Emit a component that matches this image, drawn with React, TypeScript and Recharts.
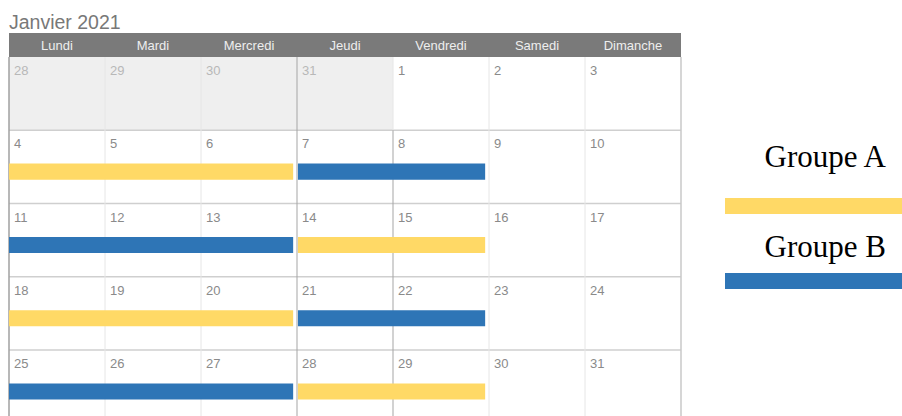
import React from 'react';
import { ComposedChart, XAxis, YAxis, Scatter, ReferenceArea, ReferenceLine, Legend } from 'recharts';

const TITLE = 'Janvier 2021';
const dayNames = ['Lundi', 'Mardi', 'Mercredi', 'Jeudi', 'Vendredi', 'Samedi', 'Dimanche'];
const weekDays = [
  [28, 29, 30, 31, 1, 2, 3],
  [4, 5, 6, 7, 8, 9, 10],
  [11, 12, 13, 14, 15, 16, 17],
  [18, 19, 20, 21, 22, 23, 24],
  [25, 26, 27, 28, 29, 30, 31],
];
const prevMonthCells = 4;
const groupA = [
  { week: 1, start: 0, end: 3 },
  { week: 2, start: 3, end: 5 },
  { week: 3, start: 0, end: 3 },
  { week: 4, start: 3, end: 5 },
];
const groupB = [
  { week: 1, start: 3, end: 5 },
  { week: 2, start: 0, end: 3 },
  { week: 3, start: 3, end: 5 },
  { week: 4, start: 0, end: 3 },
];
const groups = [
  { name: 'Groupe A', color: '#FFD966', spans: groupA },
  { name: 'Groupe B', color: '#2E75B6', spans: groupB },
];

const SANS = '"Liberation Sans", Arial, Helvetica, sans-serif';
const SERIF = '"Liberation Serif", "Times New Roman", serif';
const Y_MAX = 4.9;

const cells = weekDays.flatMap((week, w) =>
  week.map((day, c) => ({ x: c, y: w, day, muted: w === 0 && c < prevMonthCells }))
);
const headers = dayNames.map((name, i) => ({ x: i + 0.5, y: -0.164, name }));

const DayShape = (p: any) => (
  <text
    x={p.cx + 5}
    y={p.cy + 18}
    fontSize={13}
    fontFamily={SANS}
    fill={p.payload.muted ? '#b8b8b8' : '#8a8a8a'}
  >
    {p.payload.day}
  </text>
);

const HeaderShape = (p: any) => (
  <text
    x={p.cx}
    y={p.cy}
    textAnchor="middle"
    dominantBaseline="central"
    fontSize={13}
    fontFamily={SANS}
    fill="#eeeeee"
  >
    {p.payload.name}
  </text>
);

const LegendContent = () => (
  <svg width={212} height={180}>
    {groups.map((g, i) => (
      <g key={g.name}>
        <text x={196} y={47 + i * 90} textAnchor="end" fontSize={31} fontFamily={SERIF} fill="#000">
          {g.name}
        </text>
        <rect x={35} y={78 + i * 75} width={177} height={16} fill={g.color} />
      </g>
    ))}
  </svg>
);

const vLines = [
  { x: 0, y1: 0, stroke: '#a0a0a0', w: 1.5 },
  { x: 1, y1: 0, stroke: '#e6e6e6', w: 1 },
  { x: 2, y1: 0, stroke: '#e6e6e6', w: 1 },
  { x: 3, y1: 0, stroke: '#a5a5a5', w: 1 },
  { x: 4, y1: 1, stroke: '#a5a5a5', w: 1 },
  { x: 5, y1: 0, stroke: '#e6e6e6', w: 1 },
  { x: 6, y1: 0, stroke: '#e6e6e6', w: 1 },
  { x: 7, y1: 0, stroke: '#c8c8c8', w: 1.5 },
];

export default function App() {
  return (
    <div style={{ position: 'absolute', left: 0, top: 0, width: 902, height: 416, background: '#fff' }}>
      <svg width={300} height={33} style={{ position: 'absolute', left: 0, top: 0 }}>
        <text x={9} y={29} fontSize={19.5} fontFamily={SANS} fill="#787878">
          {TITLE}
        </text>
      </svg>
      <ComposedChart width={902} height={416} margin={{ top: 33, left: 9, right: 221, bottom: 0 }}>
        <XAxis hide type="number" dataKey="x" domain={[0, 7]} allowDataOverflow />
        <YAxis hide type="number" dataKey="y" domain={[-0.328, Y_MAX]} reversed allowDataOverflow />
        <Legend
          layout="horizontal"
          align="center"
          verticalAlign="middle"
          content={LegendContent}
          wrapperStyle={{ position: 'absolute', left: 690, top: 120, width: 212, height: 180 }}
        />
        <ReferenceArea x1={0} x2={7} y1={-0.328} y2={0} fill="#7a7a7a" fillOpacity={1} ifOverflow="visible" zIndex={40} />
        <ReferenceArea x1={0} x2={prevMonthCells} y1={0} y2={1} fill="#efefef" fillOpacity={1} ifOverflow="visible" zIndex={40} />
        {[1, 2, 3, 4].map((y) => (
          <ReferenceLine key={'h' + y} y={y} stroke="#cfcfcf" strokeWidth={1.5} ifOverflow="visible" zIndex={50} />
        ))}
        <ReferenceLine
          segment={[{ x: 4, y: 0 }, { x: 4, y: 1 }]}
          stroke="#e6e6e6"
          strokeWidth={1}
          ifOverflow="visible"
          zIndex={50}
        />
        {vLines.map((l) => (
          <ReferenceLine
            key={'v' + l.x}
            segment={[{ x: l.x, y: l.y1 }, { x: l.x, y: Y_MAX }]}
            stroke={l.stroke}
            strokeWidth={l.w}
            ifOverflow="visible"
            zIndex={50}
          />
        ))}
        {groups.flatMap((g) =>
          g.spans.map((s, i) => (
            <ReferenceArea
              key={g.name + i}
              x1={s.start + (s.start === 0 ? 0 : 0.01)}
              x2={s.end - 0.04}
              y1={s.week + 0.455}
              y2={s.week + 0.675}
              fill={g.color}
              fillOpacity={1}
              ifOverflow="visible"
              zIndex={200}
            />
          ))
        )}
        <Scatter data={cells} shape={DayShape} isAnimationActive={false} />
        <Scatter data={headers} shape={HeaderShape} isAnimationActive={false} />
      </ComposedChart>
    </div>
  );
}
